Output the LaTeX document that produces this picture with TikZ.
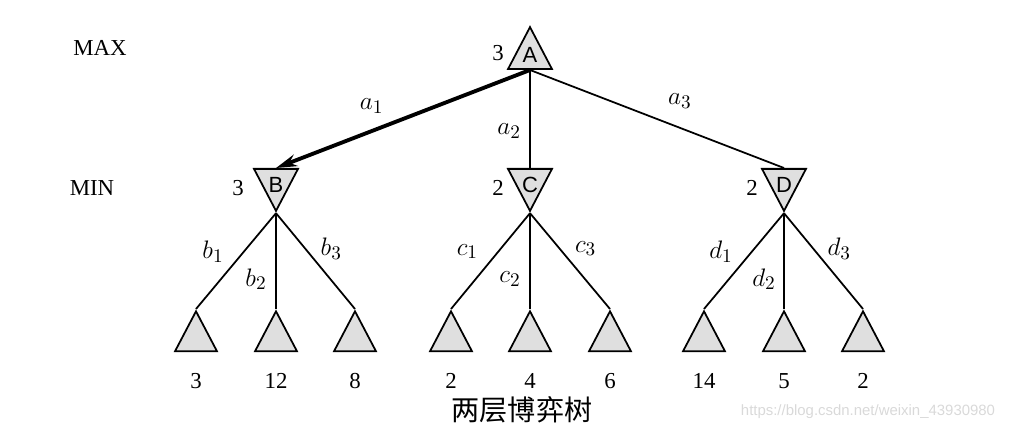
\documentclass[tikz,border=0pt]{standalone}
\usepackage{fontspec}
\setmainfont{Liberation Serif}
\setsansfont{Liberation Sans}
\newfontfamily\cjk{Noto Sans CJK SC}
\usetikzlibrary{arrows.meta, shapes.geometric, positioning}
\tikzset{
    maxnode/.style={isosceles triangle, shape border rotate=90,
        isosceles triangle stretches, minimum width=0.88cm, minimum height=0.84cm,
        inner sep=0pt, draw, line width=1pt, fill=gray!25},
    minnode/.style={maxnode, shape border rotate=270},
    leaf/.style={maxnode, minimum width=0.84cm, minimum height=0.8cm},
    tag/.style={font=\sffamily\fontsize{12.5}{14}\selectfont},
    branch/.style={line width=1pt},
    best/.style={-{Stealth[length=4.2mm, width=2.4mm]}, line width=2.2pt},
    value/.style={font=\fontsize{13}{15}\selectfont},
    move/.style={font=\fontsize{15}{17}\selectfont}
}

\begin{document}
\begin{tikzpicture}[x=0.2mm, y=-0.2mm, value]
    \useasboundingbox (0,0) rectangle (1013,431);
    % 层
    \node (max) at (100,48) {MAX};
    \node (min) at (92,188) {MIN};

    % MAX 节点
    \node[maxnode, anchor=lower side] (A) at (530,70) {};
    \node[tag] (tA) at ([yshift=3mm]A.lower side) {A};
    \node (vA) at (498,53) {3};

    % MIN 节点
    \node[minnode, anchor=lower side] (B) at (276,168) {};
    \node[minnode, anchor=lower side] (C) at (530,168) {};
    \node[minnode, anchor=lower side] (D) at (784,168) {};
    \node[tag] (tB) at ([yshift=-3.4mm]B.lower side) {B};
    \node[tag] (tC) at ([yshift=-3.4mm]C.lower side) {C};
    \node[tag] (tD) at ([yshift=-3.4mm]D.lower side) {D};
    \node (vB) at (238,188) {3};
    \node (vC) at (498,188) {2};
    \node (vD) at (752,188) {2};

    % 叶子
    \foreach \x/\v [count=\i] in {196/3, 276/12, 355/8, 451/2, 530/4, 610/6, 704/14, 784/5, 863/2} {
        \node[leaf, anchor=apex] (L\i) at (\x,309) {};
        \node (v\i) at (\x,381) {\v};
    }

    % 第一层
    \draw[best] (A.lower side) -- (B.lower side) node[move, pos=0.6, shift={(-6,-23)}]{$a_1$};
    \draw[branch] (A.lower side) -- (C.lower side) node[move, pos=0.62, shift={(-21,0)}]{$a_2$};
    \draw[branch] (A.lower side) -- (D.lower side) node[move, pos=0.59, shift={(0,-27)}]{$a_3$};

    % 第二层
    \draw[branch] (B.apex) -- (L1.apex) node[move, pos=0.4, shift={(-31,0)}]{$b_1$};
    \draw[branch] (B.apex) -- (L2.apex) node[move, pos=0.69, shift={(-20,0)}]{$b_2$};
    \draw[branch] (B.apex) -- (L3.apex) node[move, pos=0.37, shift={(26,0)}]{$b_3$};
    \draw[branch] (C.apex) -- (L4.apex) node[move, pos=0.4, shift={(-31,0)}]{$c_1$};
    \draw[branch] (C.apex) -- (L5.apex) node[move, pos=0.69, shift={(-20,0)}]{$c_2$};
    \draw[branch] (C.apex) -- (L6.apex) node[move, pos=0.37, shift={(26,0)}]{$c_3$};
    \draw[branch] (D.apex) -- (L7.apex) node[move, pos=0.4, shift={(-31,0)}]{$d_1$};
    \draw[branch] (D.apex) -- (L8.apex) node[move, pos=0.69, shift={(-20,0)}]{$d_2$};
    \draw[branch] (D.apex) -- (L9.apex) node[move, pos=0.37, shift={(26,0)}]{$d_3$};

    \node[font=\cjk\fontsize{16}{18}\selectfont] (cap) at (522,410) {两层博弈树};
    \node[text=gray!30, font=\sffamily\fontsize{8.5}{10}\selectfont] (wm) at (868,412) {https://blog.csdn.net/weixin\_43930980};
\end{tikzpicture}
\end{document}
